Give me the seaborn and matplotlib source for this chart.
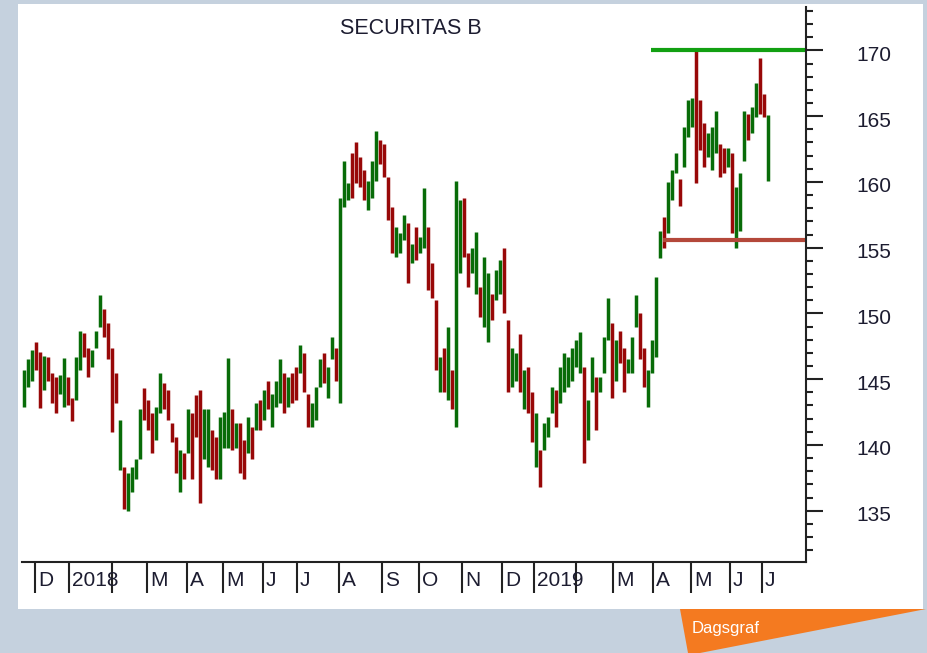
import numpy as np
import pandas as pd
import seaborn as sns
import matplotlib
matplotlib.use("Agg")
import matplotlib.pyplot as plt
import matplotlib.transforms as mtransforms
from matplotlib.patches import Rectangle, Polygon
from matplotlib.ticker import MultipleLocator, FixedLocator

# ---------------- data (daily-ish OHLC bars) ----------------
title = "SECURITAS B"

highs = [145.7, 146.5, 147.2, 147.8, 147.1, 146.8, 146.7, 145.5, 145.2, 145.3,
         146.6, 145.2, 143.6, 146.7, 148.7, 148.5, 147.4, 147.2, 148.7, 151.4,
         150.3, 149.3, 147.4, 145.5, 141.9, 138.3, 137.9, 138.3, 138.9, 142.7,
         144.3, 143.4, 142.4, 142.9, 145.5, 144.7, 144.2, 141.7, 140.6, 139.6,
         139.4, 142.7, 142.4, 143.8, 144.2, 142.7, 142.7, 141.1, 140.6, 142.1,
         142.5, 146.6, 142.7, 141.7, 141.7, 140.4, 142.1, 141.4, 143.2, 143.4,
         144.2, 144.9, 143.9, 144.9, 146.5, 145.5, 145.2, 145.5, 145.9, 147.6,
         147.0, 143.9, 143.2, 144.4, 146.5, 147.0, 145.9, 148.2, 147.4, 158.8,
         161.6, 159.9, 162.2, 163.0, 161.9, 160.9, 160.1, 161.6, 163.9, 163.2,
         162.9, 160.4, 158.1, 156.6, 156.1, 157.5, 156.9, 155.3, 156.6, 155.8,
         159.5, 156.6, 153.8, 151.0, 146.7, 147.4, 149.0, 145.7, 160.1, 158.6,
         158.8, 154.6, 155.0, 156.2, 152.0, 154.3, 153.1, 151.5, 153.3, 154.1,
         155.0, 149.5, 147.4, 147.0, 148.4, 145.7, 145.9, 144.0, 142.4, 139.6,
         141.7, 142.1, 144.4, 144.2, 145.9, 147.0, 146.7, 147.4, 148.0, 148.6,
         145.9, 143.4, 146.7, 145.2, 145.2, 148.2, 151.2, 149.3, 148.0, 148.7,
         147.4, 146.5, 148.2, 151.4, 150.0, 147.4, 145.7, 148.0, 152.8, 156.3,
         157.3, 160.0, 160.9, 162.2, 160.2, 164.2, 166.2, 166.4, 170.0, 166.2,
         164.5, 163.7, 164.2, 165.4, 162.9, 162.6, 162.6, 162.2, 159.6, 160.7,
         165.4, 165.2, 165.7, 167.5, 169.4, 166.7, 165.1]

lows = [142.9, 144.4, 144.9, 145.7, 142.8, 144.2, 144.9, 143.2, 142.4, 143.9,
        142.9, 143.0, 141.8, 143.4, 145.7, 146.7, 145.2, 145.9, 147.4, 149.0,
        148.2, 146.5, 141.0, 143.2, 138.1, 135.1, 135.0, 136.4, 137.4, 138.9,
        141.9, 141.1, 139.4, 140.4, 142.4, 142.7, 141.9, 140.2, 137.9, 136.4,
        137.4, 139.4, 137.4, 140.6, 135.6, 138.9, 138.3, 138.1, 137.4, 137.4,
        139.8, 139.8, 139.6, 139.8, 137.9, 137.4, 139.4, 138.9, 141.1, 141.1,
        141.9, 142.7, 141.4, 142.9, 143.2, 142.4, 142.9, 143.2, 143.4, 145.5,
        144.0, 141.4, 141.4, 141.9, 144.4, 144.7, 143.6, 146.5, 144.9, 143.2,
        158.1, 158.6, 158.8, 159.9, 159.6, 158.6, 157.9, 158.8, 160.1, 161.4,
        160.4, 157.1, 154.6, 154.3, 154.6, 155.6, 152.3, 153.8, 154.1, 154.6,
        155.0, 151.8, 151.2, 145.7, 144.0, 144.0, 143.4, 142.7, 141.4, 153.1,
        154.3, 152.0, 153.1, 151.5, 149.7, 149.0, 147.8, 149.5, 151.0, 151.5,
        150.0, 144.0, 144.4, 144.9, 144.0, 142.7, 142.4, 140.2, 138.3, 136.8,
        139.6, 140.6, 142.4, 141.4, 143.2, 144.0, 144.4, 144.9, 145.9, 145.5,
        138.6, 140.4, 144.0, 141.1, 144.0, 145.5, 148.0, 143.6, 144.9, 146.2,
        144.0, 145.5, 145.5, 149.0, 146.5, 144.4, 142.9, 145.5, 146.7, 154.2,
        155.0, 156.1, 158.6, 160.7, 158.2, 161.1, 163.4, 164.2, 159.9, 162.4,
        161.1, 161.9, 160.9, 162.2, 160.4, 160.7, 161.1, 156.1, 155.0, 156.3,
        161.6, 163.2, 163.7, 164.9, 165.2, 164.9, 160.1]

direction = list(
    "gggrrgrrrg" "grrggrrggg" "rrrrgrgggg" "rrrggrrrrg" "rgrrrggrrg"
    "ggrgrrgrgr" "grgggrgrrg" "rrgggrggrg" "ggrrrrgggr" "rrrgggrgrg"
    "grrrgrgrgg" "rrggrggrgg" "rrggrgrrgr" "gggrgggggg" "rggrgggrgr"
    "rgggrrgggg" "rgggrgggrr" "rgggrrgrgg" "grggrrg")

month_labels = ["D", "2018", "", "M", "A", "M", "J", "J", "A", "S", "O", "N",
                "D", "2019", "", "M", "A", "M", "J", "J"]
month_pos = [2.75, 11.25, 22.0, 30.75, 40.75, 49.75, 59.75, 68.25, 78.75, 89.5,
             98.75, 109.5, 119.5, 127.5, 138.0, 147.25, 157.25, 166.75, 176.5, 184.5]

resistance_level, resistance_start = 170.0, 156.75
support_level, support_start = 155.6, 159.75

# ---------------- styling ----------------
sns.set_theme(style="white")
plt.rcParams["font.family"] = ["Liberation Sans", "DejaVu Sans"]

GREEN, RED = "#086c08", "#980808"
TXT = "#1c1c30"

W, H = 928, 653
fig = plt.figure(figsize=(W / 100, H / 100), dpi=100)
fig.patch.set_facecolor("#c5d1de")

bg = fig.add_axes([0, 0, 1, 1], zorder=0)
bg.set_xlim(0, W)
bg.set_ylim(H, 0)
bg.axis("off")
bg.add_patch(Rectangle((18, 4), 905, 605, fc="white", ec="none"))
bg.add_patch(Polygon([(680, 609), (926, 609), (700, 653), (688, 653)],
                     closed=True, fc="#f47a20", ec="none"))
bg.text(692, 628, "Dagsgraf", color="white", fontsize=12, ha="left", va="center")

ax = fig.add_axes([22 / W, 1 - 562 / H, (806 - 22) / W, (562 - 7) / H], zorder=1)
ax.set_facecolor("none")

df = pd.DataFrame({"high": highs, "low": lows, "dir": direction})
df["idx"] = np.arange(len(df))
cols = df["dir"].map({"g": GREEN, "r": RED})
ax.vlines(df["idx"], df["low"], df["high"], colors=cols, linewidth=2.5,
          capstyle="butt")

ax.hlines(resistance_level, resistance_start, 195.5, color="#12a012", linewidth=3.0)
ax.hlines(support_level, support_start, 195.5, color="#b4483a", linewidth=3.0)

ax.set_xlim(-0.5, 195.5)
ax.set_ylim(131.1, 173.3)
ax.grid(False)

for s in ["left", "top"]:
    ax.spines[s].set_visible(False)
for s in ["right", "bottom"]:
    ax.spines[s].set_visible(True)
    ax.spines[s].set_color("#222222")
    ax.spines[s].set_linewidth(1.5)

# right price axis
ax.yaxis.tick_right()
ax.yaxis.set_major_locator(FixedLocator(list(range(135, 171, 5))))
ax.yaxis.set_minor_locator(MultipleLocator(1))
ax.tick_params(axis="y", which="major", right=True, left=False, length=12.5, width=1.5,
               color="#222222", pad=24, labelsize=15, labelcolor=TXT, direction="out")
ax.tick_params(axis="y", which="minor", right=True, left=False, length=5, width=1.5,
               color="#222222", direction="out")
off = mtransforms.ScaledTranslation(0, -3 / 100, fig.dpi_scale_trans)
for lab in ax.get_yticklabels():
    lab.set_transform(lab.get_transform() + off)

# bottom month axis
ax.set_xticks(month_pos)
ax.set_xticklabels([""] * len(month_pos))
ax.tick_params(axis="x", which="major", bottom=True, length=22, width=1.5,
               color="#222222", direction="out")
trans = mtransforms.blended_transform_factory(ax.transData, ax.transAxes) + \
    mtransforms.ScaledTranslation(3 / 100, -18 / 100, fig.dpi_scale_trans)
for p, lab in zip(month_pos, month_labels):
    if lab:
        ax.text(p, 0, lab, transform=trans, ha="left", va="center",
                fontsize=15, color=TXT)

fig.text(411 / W, 1 - 29 / H, title, ha="center", va="center",
         fontsize=15.5, color=TXT)

fig.savefig("out.png", dpi=100, facecolor=fig.get_facecolor())
